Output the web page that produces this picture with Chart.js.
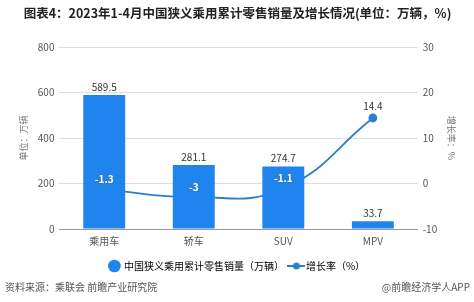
<!DOCTYPE html>
<html>
<head>
<meta charset="utf-8">
<script src="https://cdn.jsdelivr.net/npm/chart.js@4/dist/chart.umd.min.js"></script>
<style>
  html, body { margin: 0; padding: 0; background: #fff; }
  #wrap { width: 474px; height: 302px; }
</style>
</head>
<body>
<div id="wrap"><canvas id="salesChart" width="474" height="302"></canvas></div>
<script>
// data
const categories = ['乘用车', '轿车', 'SUV', 'MPV'];
const salesData = [589.5, 281.1, 274.7, 33.7];
const growthData = [-1.3, -3, -1.1, 14.4];
const leftTicks = [0, 200, 400, 600, 800];
const rightTicks = [-10, 0, 10, 20, 30];

const FONT = '"Noto Sans CJK SC", "Noto Sans", sans-serif';
const barColor = '#1f84ee';
const lineColor = '#2b7fd0';

// little icon for the line legend entry (line with a dot)
function lineIcon() {
    const c = document.createElement('canvas');
    c.width = 18; c.height = 8;
    const g = c.getContext('2d');
    g.strokeStyle = lineColor;
    g.lineWidth = 2;
    g.beginPath(); g.moveTo(0, 4); g.lineTo(18, 4); g.stroke();
    g.fillStyle = lineColor;
    g.beginPath(); g.arc(9, 4, 3.5, 0, Math.PI * 2); g.fill();
    return c;
}

// value labels on bars and line points
const valueLabels = {
    id: 'valueLabels',
    afterDatasetsDraw(chart) {
        const ctx = chart.ctx;
        const barMeta = chart.getDatasetMeta(0);
        const lineMeta = chart.getDatasetMeta(1);
        ctx.save();
        ctx.textAlign = 'center';
        ctx.textBaseline = 'bottom';
        ctx.font = '10px ' + FONT;
        ctx.fillStyle = '#333';
        barMeta.data.forEach((bar, i) => {
            ctx.fillText(String(salesData[i]), bar.x, bar.y - 3);
        });
        ctx.font = 'bold 10px ' + FONT;
        lineMeta.data.forEach((pt, i) => {
            const bar = barMeta.data[i];
            const ly = pt.y - 5;
            const inside = ly > bar.y && Math.abs(pt.x - bar.x) < bar.width / 2;
            const txt = String(growthData[i]);
            if (inside) {
                ctx.lineWidth = 3;
                ctx.strokeStyle = lineColor;
                ctx.strokeText(txt, pt.x, ly);
                ctx.fillStyle = '#fff';
                ctx.fillText(txt, pt.x, ly);
            } else {
                ctx.fillStyle = '#333';
                ctx.font = '10px ' + FONT;
                ctx.fillText(txt, pt.x, ly - 2);
            }
        });
        ctx.restore();
    }
};

// source line at the bottom
const footer = {
    id: 'footer',
    afterDraw(chart) {
        const ctx = chart.ctx;
        ctx.save();
        ctx.font = '10px ' + FONT;
        ctx.fillStyle = '#555';
        ctx.textBaseline = 'middle';
        ctx.textAlign = 'left';
        ctx.fillText('资料来源：乘联会 前瞻产业研究院', 5, 287);
        ctx.textAlign = 'right';
        ctx.fillText('@前瞻经济学人APP', 470, 287);
        ctx.restore();
    }
};

const ctx = document.getElementById('salesChart').getContext('2d');
const salesChart = new Chart(ctx, {
    data: {
        labels: categories,
        datasets: [{
            type: 'bar',
            label: '中国狭义乘用累计零售销量（万辆）',
            data: salesData,
            backgroundColor: barColor,
            barPercentage: 0.9,
            categoryPercentage: 0.52,
            yAxisID: 'y',
            order: 0
        }, {
            type: 'line',
            label: '增长率（%）',
            data: growthData,
            borderColor: lineColor,
            backgroundColor: lineColor,
            borderWidth: 1.8,
            tension: 0.45,
            pointRadius: 3.5,
            pointBackgroundColor: lineColor,
            yAxisID: 'y1',
            order: 1
        }]
    },
    options: {
        responsive: false,
        animation: false,
        layout: { padding: { left: 14, right: 13, top: 0, bottom: 21 } },
        plugins: {
            title: {
                display: true,
                text: '图表4：2023年1-4月中国狭义乘用累计零售销量及增长情况(单位：万辆，%)',
                color: '#222',
                font: { family: FONT, size: 12.5, weight: 'bold' },
                padding: { top: 6, bottom: 26 }
            },
            legend: {
                position: 'bottom',
                labels: {
                    color: '#333',
                    font: { family: FONT, size: 10 },
                    usePointStyle: true,
                    boxWidth: 9,
                    boxHeight: 9,
                    padding: 8,
                    generateLabels(chart) {
                        return [{
                            text: chart.data.datasets[0].label,
                            fillStyle: barColor,
                            strokeStyle: barColor,
                            lineWidth: 0,
                            pointStyle: 'circle',
                            datasetIndex: 0
                        }, {
                            text: chart.data.datasets[1].label,
                            fillStyle: lineColor,
                            strokeStyle: lineColor,
                            lineWidth: 0,
                            pointStyle: lineIcon(),
                            datasetIndex: 1
                        }];
                    }
                }
            },
            tooltip: { enabled: false }
        },
        scales: {
            x: {
                grid: { display: false, drawTicks: false },
                border: { color: '#999' },
                ticks: { color: '#555', font: { family: FONT, size: 10 }, padding: 6 }
            },
            y: {
                position: 'left',
                min: 0, max: 800,
                afterBuildTicks(axis) { axis.ticks = leftTicks.map(v => ({ value: v })); },
                grid: { color: '#ddd', drawTicks: false },
                border: { display: false },
                ticks: { color: '#555', font: { family: FONT, size: 10 }, padding: 5 },
                title: {
                    display: true, text: '单位：万辆', color: '#777',
                    font: { family: FONT, size: 9 }, padding: 4
                }
            },
            y1: {
                position: 'right',
                min: -10, max: 30,
                afterBuildTicks(axis) { axis.ticks = rightTicks.map(v => ({ value: v })); },
                grid: { display: false, drawTicks: false },
                border: { display: false },
                ticks: { color: '#555', font: { family: FONT, size: 10 }, padding: 5 },
                title: {
                    display: true, text: '增长率：%', color: '#777',
                    font: { family: FONT, size: 9 }, padding: 4
                }
            }
        }
    },
    plugins: [valueLabels, footer]
});
</script>
</body>
</html>
